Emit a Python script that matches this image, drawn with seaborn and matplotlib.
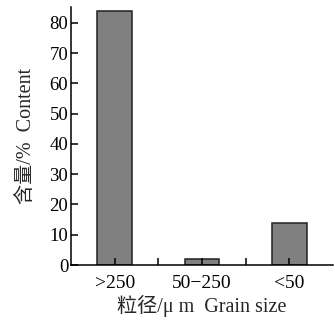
import seaborn as sns
import matplotlib.pyplot as plt
import pandas as pd

categories = [">250", "50\u2212250", "<50"]
content = [84.0, 1.9, 14.0]

sns.set_style("ticks")
plt.rcParams['font.family'] = ['Liberation Serif', 'Noto Sans CJK SC', 'DejaVu Sans']

df = pd.DataFrame({"size": categories, "content": content})

fig = plt.figure(figsize=(3.35, 3.2), dpi=100)
ax = fig.add_axes([71 / 335, 1 - 265 / 320, 262 / 335, 258 / 320])
sns.barplot(data=df, x="size", y="content", color="#808080", saturation=1,
            width=0.4, edgecolor="#222222", linewidth=1.1, ax=ax)

ax.set_axisbelow(False)
ax.set_xlim(-0.5, 2.5)
ax.set_ylim(0, 85.2)
ax.set_yticks(range(0, 81, 10))
ax.set_xticks([0.5, 1.5], minor=True)
ax.tick_params(axis="both", which="both", direction="in", labelsize=13.5,
               width=1.1, length=5, colors="black")
ax.tick_params(axis="x", which="major", pad=7, labelsize=14)
ax.tick_params(axis="y", pad=2)
for s in ["left", "bottom"]:
    ax.spines[s].set_linewidth(1.1)
    ax.spines[s].set_color("black")
sns.despine(ax=ax)

ax.set_xlabel("粒径/μ m  Grain size", fontsize=14.5, labelpad=2)
ax.set_ylabel("含量/%  Content", fontsize=14.5, labelpad=10)

fig.savefig("out.png", dpi=100)
